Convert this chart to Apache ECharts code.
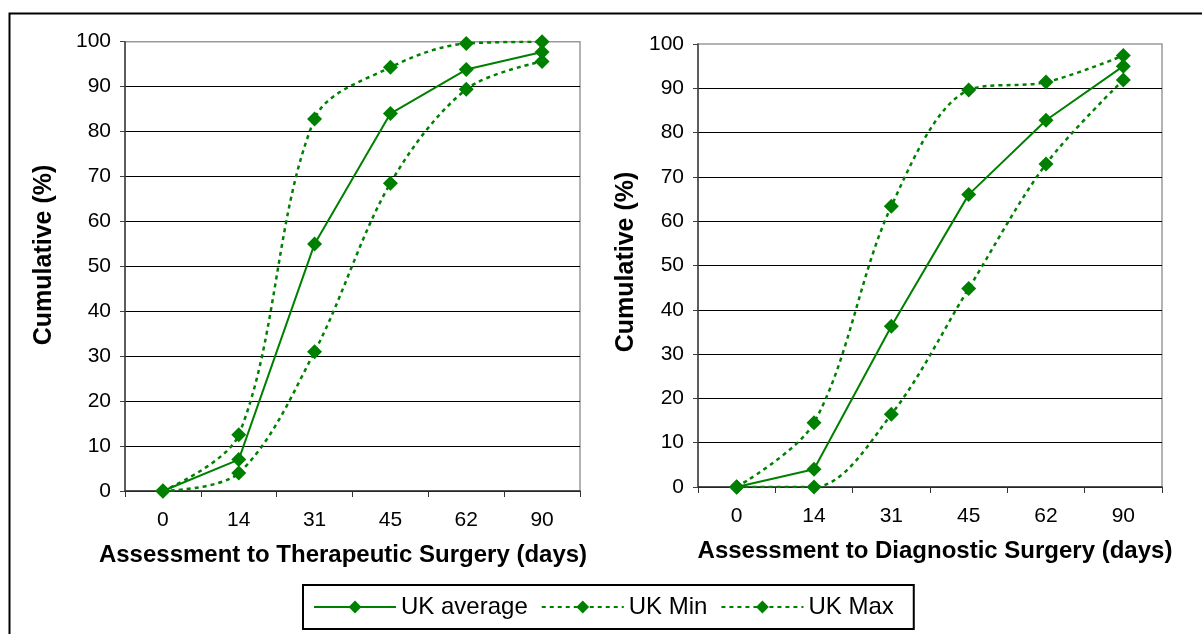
<!DOCTYPE html>
<html>
<head>
<meta charset="utf-8">
<script src="https://cdn.jsdelivr.net/npm/echarts@6/dist/echarts.min.js"></script>
<style>
html,body{margin:0;padding:0;background:#fff;}
#chart{width:1202px;height:634px;}
</style>
</head>
<body>
<div id="chart"></div>
<script>
// ---- data ----
const categories = ['0', '14', '31', '45', '62', '90'];
const seriesNames = ['UK average', 'UK Min', 'UK Max'];
// Assessment to Therapeutic Surgery
const therAvg = [0, 7, 55, 84, 93.8, 97.7];
const therMin = [0, 4, 31, 68.5, 89.4, 95.6];
const therMax = [0, 12.5, 82.8, 94.3, 99.6, 100];
// Assessment to Diagnostic Surgery
const diagAvg = [0, 4, 36.3, 66, 82.8, 95];
const diagMin = [0, 0, 16.4, 44.8, 72.9, 91.9];
const diagMax = [0, 14.5, 63.4, 89.6, 91.4, 97.4];
const xTitles = ['Assessment to Therapeutic Surgery (days)', 'Assessment to Diagnostic Surgery (days)'];
const yTitle = 'Cumulative (%)';

const FONT = 'Liberation Sans, Arial, sans-serif';
const GREEN = '#008000';

function xAxisFor(idx, name, pad) {
  return {
    type: 'category', gridIndex: idx, data: categories, boundaryGap: true,
    axisLine: {show: true, lineStyle: {color: '#333', width: 1.5}},
    axisTick: {show: true, length: 6, lineStyle: {color: '#333', width: 1}},
    axisLabel: {fontSize: 21, color: '#000', fontFamily: FONT, margin: 19},
    name: name, nameLocation: 'middle', nameGap: 52,
    nameTextStyle: {fontSize: 24, fontWeight: 'bold', color: '#000', fontFamily: FONT, padding: pad}
  };
}
function yAxisFor(idx) {
  return {
    type: 'value', gridIndex: idx, min: 0, max: 100, interval: 10,
    axisLine: {show: true, lineStyle: {color: '#404040', width: 1.5}},
    axisTick: {show: true, length: 5, lineStyle: {color: '#404040'}},
    axisLabel: {fontSize: 21, color: '#000', fontFamily: FONT, margin: 14},
    splitLine: {show: true, showMaxLine: false, lineStyle: {color: '#000', width: 1}}
  };
}
function lineSeries(name, data, idx, dotted) {
  return {
    name: name, type: 'line', xAxisIndex: idx, yAxisIndex: idx, data: data,
    smooth: dotted ? 0.33 : false,
    symbol: 'diamond', symbolSize: 15,
    itemStyle: {color: GREEN},
    lineStyle: dotted ? {color: GREEN, width: 2.5, type: [4, 4]} : {color: GREEN, width: 2},
    emphasis: {disabled: true}
  };
}

const chart = echarts.init(document.getElementById('chart'), null, {renderer: 'canvas'});
chart.setOption({
  backgroundColor: '#fff',
  animation: false,
  textStyle: {fontFamily: FONT},
  grid: [
    {left: 125, top: 41.7, width: 455, height: 449.3, show: true, borderColor: '#9a9a9a', borderWidth: 1.5, backgroundColor: 'transparent'},
    {left: 698, top: 44, width: 464, height: 443, show: true, borderColor: '#9a9a9a', borderWidth: 1.5, backgroundColor: 'transparent'}
  ],
  xAxis: [xAxisFor(0, xTitles[0], [0, 19, 0, 0]), xAxisFor(1, xTitles[1], [0, 0, 0, 10])],
  yAxis: [yAxisFor(0), yAxisFor(1)],
  legend: {
    data: seriesNames, left: 303, top: 585,
    itemWidth: 82, itemHeight: 16, itemGap: 13,
    textStyle: {fontSize: 24, color: '#000', fontFamily: FONT},
    borderColor: '#000', borderWidth: 2, padding: [10, 20, 10, 10],
    selectedMode: false
  },
  graphic: [
    {type: 'rect', shape: {x: 9.5, y: 13.5, width: 1300, height: 700}, style: {fill: 'none', stroke: '#000', lineWidth: 2}, silent: true},
    {type: 'text', x: 44, y: 255, rotation: Math.PI / 2, style: {text: yTitle, font: 'bold 25px ' + FONT, fill: '#000', align: 'center', verticalAlign: 'middle'}},
    {type: 'text', x: 626, y: 262, rotation: Math.PI / 2, style: {text: yTitle, font: 'bold 25px ' + FONT, fill: '#000', align: 'center', verticalAlign: 'middle'}}
  ],
  series: [
    lineSeries(seriesNames[0], therAvg, 0, false),
    lineSeries(seriesNames[1], therMin, 0, true),
    lineSeries(seriesNames[2], therMax, 0, true),
    lineSeries(seriesNames[0], diagAvg, 1, false),
    lineSeries(seriesNames[1], diagMin, 1, true),
    lineSeries(seriesNames[2], diagMax, 1, true)
  ]
});
</script>
</body>
</html>
